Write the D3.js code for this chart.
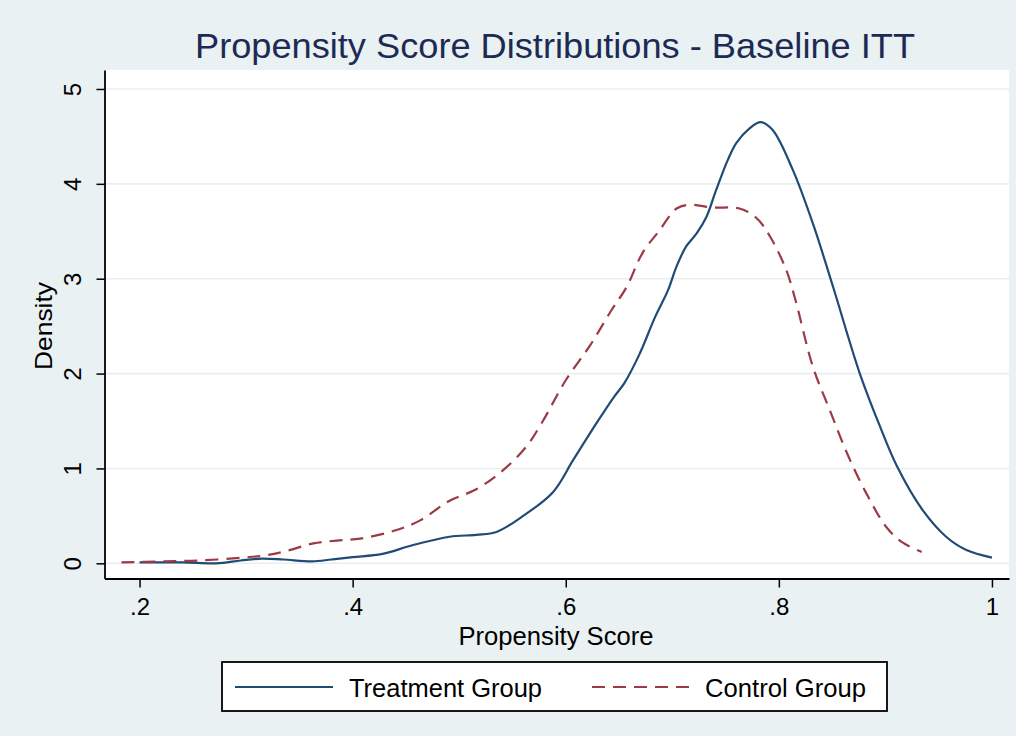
<!DOCTYPE html>
<html>
<head>
<meta charset="utf-8">
<script src="https://cdn.jsdelivr.net/npm/d3@7"></script>
<style>
  html, body { margin: 0; padding: 0; background: #eaf1f3; }
  svg { display: block; font-family: "Liberation Sans", Arial, sans-serif; }
</style>
</head>
<body>
<svg width="1016" height="736"></svg>
<script>
// ---- Data
const treatX = [0.2, 0.24, 0.272, 0.295, 0.315, 0.335, 0.362, 0.38, 0.4, 0.428, 0.456, 0.491, 0.516, 0.535,
    0.56, 0.588, 0.607, 0.629, 0.645, 0.655, 0.669, 0.684, 0.696, 0.704, 0.713, 0.723, 0.732, 0.741,
    0.752, 0.76, 0.772, 0.783, 0.794, 0.813, 0.832, 0.851, 0.876, 0.895, 0.911, 0.935, 0.957, 0.976, 1.0];
const treatY = [0.01, 0.01, 0.0, 0.03, 0.05, 0.04, 0.02, 0.04, 0.065, 0.1, 0.19, 0.28, 0.3, 0.33,
    0.5, 0.75, 1.09, 1.48, 1.75, 1.9, 2.2, 2.6, 2.88, 3.13, 3.34, 3.48, 3.65, 3.93,
    4.25, 4.43, 4.58, 4.65, 4.57, 4.15, 3.58, 2.91, 2.0, 1.44, 1.02, 0.56, 0.28, 0.14, 0.06];

const controlX = [0.183, 0.22, 0.256, 0.297, 0.319, 0.338, 0.363, 0.385, 0.407, 0.438, 0.463, 0.491, 0.516,
    0.541, 0.563, 0.578, 0.6, 0.623, 0.643, 0.657, 0.672, 0.688, 0.704, 0.716, 0.738, 0.763, 0.779,
    0.792, 0.807, 0.815, 0.832, 0.848, 0.864, 0.882, 0.901, 0.916, 0.934];
const controlY = [0.01, 0.02, 0.03, 0.06, 0.085, 0.13, 0.21, 0.24, 0.26, 0.34, 0.45, 0.66, 0.78,
    0.98, 1.23, 1.49, 1.93, 2.3, 2.67, 2.91, 3.27, 3.51, 3.74, 3.78, 3.75, 3.74, 3.64,
    3.44, 3.09, 2.8, 2.07, 1.61, 1.16, 0.74, 0.38, 0.22, 0.12];

const xTicks = [0.2, 0.4, 0.6, 0.8, 1];
const xTickLabels = ['.2', '.4', '.6', '.8', '1'];
const yTicks = [0, 1, 2, 3, 4, 5];

const series = [
    { name: 'Treatment Group', xs: treatX, ys: treatY, color: '#1f4b75', dash: null },
    { name: 'Control Group', xs: controlX, ys: controlY, color: '#9c3a46', dash: '13 8' }
];

const svg = d3.select('svg');
const plot = { left: 104.5, right: 1009, top: 70, bottom: 578.5 };

// ---- Escalas
const mapX = d3.scaleLinear().domain([0.1671, 1.016]).range([plot.left, plot.right]);
const mapY = d3.scaleLinear().domain([-0.16, 5.2]).range([plot.bottom, plot.top]);

// background + plot region
svg.append('rect').attr('width', 1016).attr('height', 736).attr('fill', '#eaf1f3');
svg.append('rect')
    .attr('x', plot.left).attr('y', plot.top)
    .attr('width', plot.right - plot.left).attr('height', plot.bottom - plot.top)
    .attr('fill', '#ffffff');

// gridlines
svg.append('g').selectAll('line')
    .data(yTicks)
    .join('line')
    .attr('x1', plot.left).attr('x2', plot.right)
    .attr('y1', d => mapY(d)).attr('y2', d => mapY(d))
    .attr('stroke', '#e9eff1')
    .attr('stroke-width', 1.6);

// ---- Curvas
const line = d3.line()
    .x(d => mapX(d[0]))
    .y(d => mapY(d[1]))
    .curve(d3.curveCatmullRom.alpha(0.5));

svg.append('g').selectAll('path')
    .data(series)
    .join('path')
    .attr('d', s => line(s.xs.map((x, i) => [x, s.ys[i]])))
    .attr('fill', 'none')
    .attr('stroke', s => s.color)
    .attr('stroke-width', 2.2)
    .attr('stroke-dasharray', s => s.dash);

// ---- Eixos
const yAxis = d3.axisLeft(mapY).tickValues(yTicks).tickSize(8).tickSizeOuter(0).tickFormat(d3.format('d'));
const gy = svg.append('g')
    .attr('transform', `translate(${plot.left}, 0)`)
    .call(yAxis);
gy.select('.domain').attr('stroke', '#000').attr('stroke-width', 1.8);
gy.selectAll('.tick line').attr('stroke', '#000').attr('stroke-width', 1.5);
gy.selectAll('.tick text')
    .attr('x', 0).attr('dy', 0)
    .attr('text-anchor', 'middle')
    .attr('transform', 'translate(-24, 0) rotate(-90)')
    .attr('font-size', '24px')
    .attr('fill', '#000');

const xAxis = d3.axisBottom(mapX).tickValues(xTicks).tickSize(9).tickSizeOuter(0)
    .tickFormat((d, i) => xTickLabels[i]);
const gx = svg.append('g')
    .attr('transform', `translate(0, ${plot.bottom})`)
    .call(xAxis);
gx.select('.domain').attr('stroke', '#000').attr('stroke-width', 1.8);
gx.selectAll('.tick line').attr('stroke', '#000').attr('stroke-width', 1.5);
gx.selectAll('.tick text')
    .attr('y', 36.5).attr('dy', 0)
    .attr('font-size', '24px')
    .attr('fill', '#000');

// ---- Títulos
svg.append('text')
    .attr('x', 555).attr('y', 58)
    .attr('text-anchor', 'middle')
    .attr('font-size', '35px')
    .attr('fill', '#1d2b54')
    .attr('textLength', 720)
    .attr('lengthAdjust', 'spacingAndGlyphs')
    .text('Propensity Score Distributions - Baseline ITT');

svg.append('text')
    .attr('x', 556).attr('y', 645)
    .attr('text-anchor', 'middle')
    .attr('font-size', '25px')
    .attr('fill', '#000')
    .attr('textLength', 195)
    .attr('lengthAdjust', 'spacingAndGlyphs')
    .text('Propensity Score');

svg.append('text')
    .attr('transform', 'translate(52, 326) rotate(-90)')
    .attr('text-anchor', 'middle')
    .attr('font-size', '24px')
    .attr('fill', '#000')
    .attr('textLength', 88)
    .attr('lengthAdjust', 'spacingAndGlyphs')
    .text('Density');

// ---- Legenda
const legend = svg.append('g');
legend.append('rect')
    .attr('x', 222).attr('y', 662)
    .attr('width', 665).attr('height', 49)
    .attr('fill', '#fff')
    .attr('stroke', '#000')
    .attr('stroke-width', 1.8);

const legendPos = [
    { x1: 235, x2: 333, tx: 349, tw: 193 },
    { x1: 592, x2: 689, tx: 705, tw: 161 }
];
const items = legend.selectAll('.legend-item')
    .data(series)
    .join('g')
    .attr('class', 'legend-item');
items.append('line')
    .attr('x1', (d, i) => legendPos[i].x1).attr('x2', (d, i) => legendPos[i].x2)
    .attr('y1', 687).attr('y2', 687)
    .attr('stroke', d => d.color)
    .attr('stroke-width', 2.2)
    .attr('stroke-dasharray', d => d.dash);
items.append('text')
    .attr('x', (d, i) => legendPos[i].tx)
    .attr('y', 696.5)
    .attr('font-size', '25px')
    .attr('fill', '#000')
    .attr('textLength', (d, i) => legendPos[i].tw)
    .attr('lengthAdjust', 'spacingAndGlyphs')
    .text(d => d.name);
</script>
</body>
</html>
